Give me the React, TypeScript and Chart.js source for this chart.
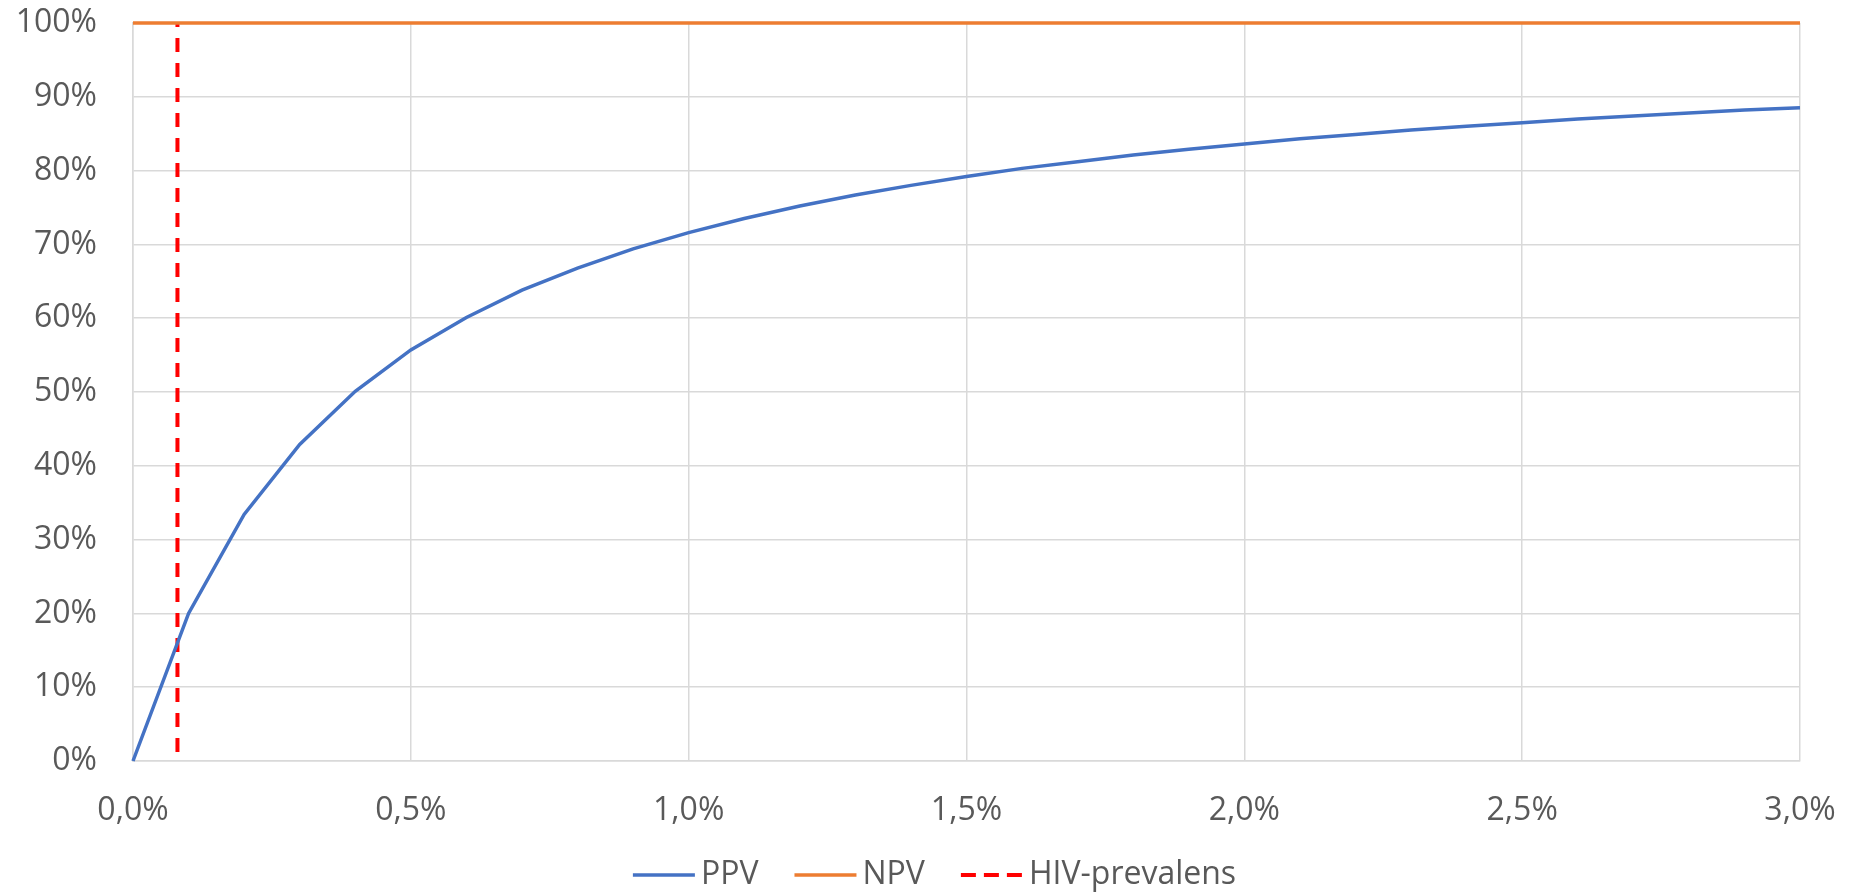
import React, { useEffect, useRef } from "react";
import { Chart, registerables } from "chart.js";

Chart.register(...registerables);

// Prevalence (share of population) on the x axis
const prevalence = [
  0, 0.001, 0.002, 0.003, 0.004, 0.005, 0.006, 0.007, 0.008, 0.009, 0.01,
  0.011, 0.012, 0.013, 0.014, 0.015, 0.016, 0.017, 0.018, 0.019, 0.02,
  0.021, 0.022, 0.023, 0.024, 0.025, 0.026, 0.027, 0.028, 0.029, 0.03,
];

// Positive predictive value at each prevalence
const ppv = [
  0, 0.2, 0.334, 0.429, 0.501, 0.557, 0.601, 0.638, 0.668, 0.694, 0.716,
  0.735, 0.752, 0.767, 0.78, 0.792, 0.803, 0.812, 0.821, 0.829, 0.836,
  0.843, 0.849, 0.855, 0.86, 0.865, 0.87, 0.874, 0.878, 0.882, 0.885,
];

// Negative predictive value at each prevalence
const npv = [
  1.0, 1.0, 1.0, 1.0, 1.0, 1.0, 1.0, 1.0, 1.0, 1.0, 1.0,
  1.0, 1.0, 1.0, 1.0, 1.0, 1.0, 1.0, 1.0, 1.0, 1.0,
  1.0, 1.0, 1.0, 1.0, 1.0, 1.0, 1.0, 1.0, 1.0, 1.0,
];

// HIV prevalence marker (vertical line)
const hivPrevalence = 0.0008;
const hivLineY = [1, 0];

const seriesLabels = ["PPV", "NPV", "HIV-prevalens"];

const FONT_FAMILY = '"Open Sans", "DejaVu Sans", sans-serif';
const TEXT_COLOR = "#595959";
const GRID_COLOR = "#D9D9D9";

// Legend drawn as short line samples followed by the series name
const lineLegend = {
  id: "lineLegend",
  afterDraw(chart: any) {
    const ctx = chart.ctx as CanvasRenderingContext2D;
    const legendDash: number[][] = [[], [], [15, 8]];
    const sampleLen = 62;
    const textGap = 6;
    const itemGap = 36;
    const y = 875;
    ctx.save();
    ctx.font = `32px ${FONT_FAMILY}`;
    const items = chart.data.datasets.map((ds: any, i: number) => ({
      label: ds.label as string,
      color: ds.borderColor as string,
      width: ds.borderWidth as number,
      dash: legendDash[i] || [],
      textW: ctx.measureText(ds.label).width,
    }));
    const total =
      items.reduce((s: number, it: any) => s + sampleLen + textGap + it.textW, 0) +
      itemGap * (items.length - 1);
    let x = chart.width / 2 + 5 - total / 2;
    for (const it of items) {
      ctx.beginPath();
      ctx.setLineDash(it.dash);
      ctx.lineDashOffset = 0;
      ctx.strokeStyle = it.color;
      ctx.lineWidth = it.width;
      ctx.lineCap = "butt";
      ctx.moveTo(x, y);
      ctx.lineTo(x + sampleLen, y);
      ctx.stroke();
      ctx.setLineDash([]);
      ctx.fillStyle = TEXT_COLOR;
      ctx.textAlign = "left";
      ctx.textBaseline = "middle";
      ctx.fillText(it.label, x + sampleLen + textGap, y);
      x += sampleLen + textGap + it.textW + itemGap;
    }
    ctx.restore();
  },
};

export default function App() {
  const canvasRef = useRef<HTMLCanvasElement | null>(null);

  useEffect(() => {
    document.body.style.margin = "0";
    const canvas = canvasRef.current;
    if (!canvas) return;

    const chart = new Chart(canvas, {
      type: "line",
      data: {
        datasets: [
          {
            label: seriesLabels[0],
            data: prevalence.map((p, i) => ({ x: p, y: ppv[i] })),
            borderColor: "#4472C4",
            backgroundColor: "#4472C4",
            borderWidth: 3.5,
            pointRadius: 0,
            tension: 0,
            clip: false as any,
          },
          {
            label: seriesLabels[1],
            data: prevalence.map((p, i) => ({ x: p, y: npv[i] })),
            borderColor: "#ED7D31",
            backgroundColor: "#ED7D31",
            borderWidth: 3.5,
            pointRadius: 0,
            tension: 0,
            clip: false as any,
          },
          {
            label: seriesLabels[2],
            data: hivLineY.map((v) => ({ x: hivPrevalence, y: v })),
            borderColor: "#FF0000",
            backgroundColor: "#FF0000",
            borderWidth: 4,
            borderDash: [14, 11],
            borderDashOffset: 10,
            pointRadius: 0,
            tension: 0,
            clip: false as any,
          },
        ],
      },
      options: {
        animation: false,
        responsive: true,
        maintainAspectRatio: false,
        layout: { padding: { top: 23, right: 59, bottom: 0, left: 0 } },
        plugins: {
          legend: { display: false },
          tooltip: { enabled: false },
        },
        scales: {
          x: {
            type: "linear",
            min: 0,
            max: 0.03,
            afterFit: (scale: any) => {
              scale.height = 135;
              scale.paddingLeft = 0;
              scale.paddingRight = 0;
            },
            ticks: {
              stepSize: 0.005,
              padding: 31,
              color: TEXT_COLOR,
              font: { family: FONT_FAMILY, size: 32 },
              maxRotation: 0,
              callback: (v: any) =>
                (Number(v) * 100).toFixed(1).replace(".", ",") + "%",
            },
            grid: { color: GRID_COLOR, lineWidth: 1.5, drawTicks: false },
            border: { color: GRID_COLOR, width: 1.5 },
          },
          y: {
            min: 0,
            max: 1,
            afterFit: (scale: any) => {
              scale.width = 133;
              scale.paddingTop = 0;
              scale.paddingBottom = 0;
            },
            ticks: {
              stepSize: 0.1,
              padding: 36,
              color: TEXT_COLOR,
              font: { family: FONT_FAMILY, size: 32 },
              callback: (v: any) => Math.round(Number(v) * 100) + "%",
            },
            grid: { color: GRID_COLOR, lineWidth: 1.5, drawTicks: false },
            border: { color: GRID_COLOR, width: 1.5 },
          },
        },
      },
      plugins: [lineLegend],
    });

    return () => chart.destroy();
  }, []);

  return (
    <div
      style={{
        position: "absolute",
        left: 0,
        top: 0,
        width: 1859,
        height: 896,
        background: "#ffffff",
      }}
    >
      <canvas ref={canvasRef} />
    </div>
  );
}
